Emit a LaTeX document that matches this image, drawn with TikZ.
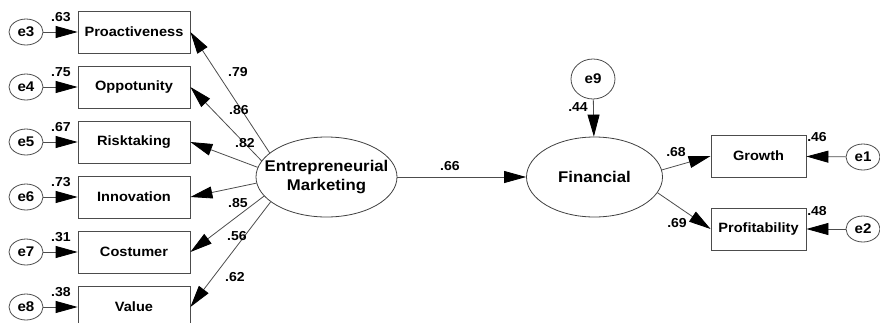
\documentclass[tikz,border=0pt]{standalone}
\usepackage{fontspec}
\setmainfont[FakeStretch=1.08]{Liberation Sans}
\usetikzlibrary{arrows.meta,shapes.geometric}

\begin{document}
\begin{tikzpicture}[x=1pt,y=-1pt,>={Triangle[length=22pt,width=12pt,color=black]}]
\tikzset{
  obs/.style={draw=black!70, line width=0.8pt, minimum width=112pt, minimum height=42pt, inner sep=0pt, font=\fontsize{13.5}{15}\selectfont\bfseries},
  err/.style={ellipse, draw=black!70, line width=0.8pt, minimum width=34pt, minimum height=26pt, inner sep=0pt, font=\fontsize{14}{16}\selectfont\bfseries},
  lat/.style={ellipse, draw=black!75, line width=0.8pt, minimum width=141pt, minimum height=80pt, inner xsep=-14pt, inner ysep=0pt, align=center, font=\fontsize{15.5}{18.5}\selectfont\bfseries},
  coef/.style={inner sep=0pt, font=\fontsize{13}{15}\selectfont\bfseries},
  path/.style={draw=black!70, line width=0.8pt, ->}
}
\useasboundingbox (0,0) rectangle (880,322);

% Latent variables
\node[lat] (em) at (326.5,177) {Entrepreneurial\\Marketing};
\node[lat, minimum width=136pt] (fin) at (594.5,177) {Financial};
\node[err, minimum width=44pt, minimum height=40pt] (e9) at (593,79) {e9};

% Indicators with their errors
\foreach \nm/\txt/\y/\i in {pro/Proactiveness/32/3, opp/Oppotunity/87/4, ris/Risktaking/142/5, inn/Innovation/197/6, cos/Costumer/252/7, val/Value/307/8} {
    \node[obs] (\nm) at (134,\y) {\txt};
    \node[err] (e\i) at (26,\y) {e\i};
    \draw[path] (e\i) -- (\nm);
}
\node[obs, minimum width=95pt] (gro) at (758.5,156) {Growth};
\node[obs, minimum width=95pt] (prf) at (758.5,229) {Profitability};
\node[err] (e1) at (863,157) {e1};
\node[err] (e2) at (863,229) {e2};

% Paths
\draw[path] (em.157) -- (pro.east);
\draw[path] (em.166) -- (opp.east);
\draw[path] (em.172) -- (ris.east);
\draw[path] (em.185) -- (inn.east);
\draw[path] (em.197) -- (cos.east);
\draw[path] (em.204) -- (val.east);
\draw[path] (em) -- (fin);
\draw[path] (e9) -- (fin);
\draw[path] (fin.6) -- (gro.west);
\draw[path] (fin.-14) -- (prf.west);
\draw[path] (e1) -- (gro);
\draw[path] (e2) -- (prf);

% Squared multiple correlations
\foreach \v/\y/\i in {63/17/3, 75/72/4, 67/127/5, 73/182/6, 31/237/7, 38/292/8}
    \node[coef] (r\i) at (61,\y) {.\v};
\node[coef] (r9) at (578,107) {.44};
\node[coef] (r1) at (817,137) {.46};
\node[coef] (r2) at (817,211) {.48};

% Loadings
\node[coef] (w1) at (238,72) {.79};
\node[coef] (w2) at (239,110) {.86};
\node[coef] (w3) at (245,143) {.82};
\node[coef] (w4) at (238,203) {.85};
\node[coef] (w5) at (237,236) {.56};
\node[coef] (w6) at (235,277) {.62};
\node[coef] (w7) at (450,166) {.66};
\node[coef] (w8) at (676,152) {.68};
\node[coef] (w9) at (677,223) {.69};

\end{tikzpicture}
\end{document}
